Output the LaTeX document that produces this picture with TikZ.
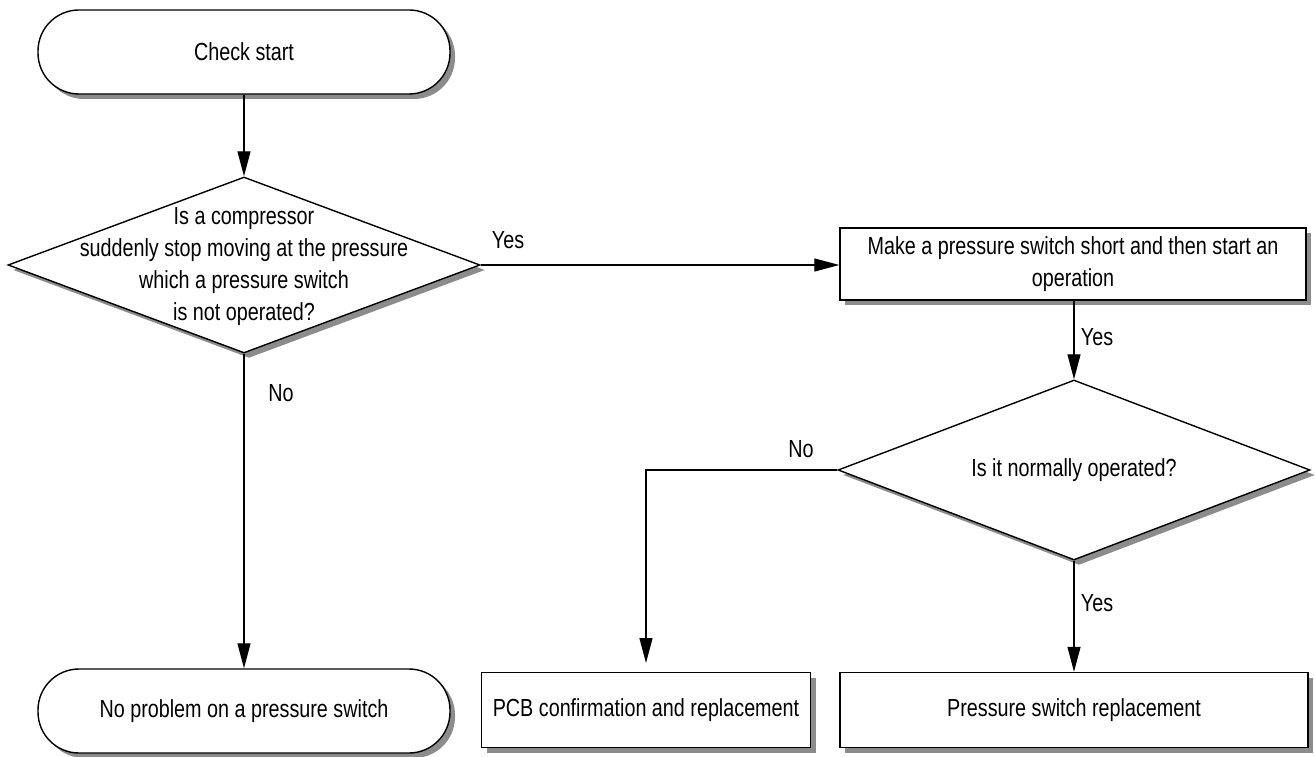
\documentclass[tikz,border=0pt]{standalone}
\usepackage{fontspec}
\setmainfont{Liberation Sans}[FakeStretch=0.8]
\usetikzlibrary{shapes.geometric,shadows,arrows.meta}
\begin{document}
\begin{tikzpicture}[x=1pt,y=-1pt,
  every node/.style={font=\fontsize{24.7}{32}\selectfont, inner sep=0pt},
  shad/.style={drop shadow={shadow xshift=5pt, shadow yshift=-5pt, fill=black!45, opacity=1}},
  term/.style={draw, line width=1.4pt, fill=white, shad, rounded corners=41pt, minimum width=412pt, minimum height=84pt},
  procbox/.style={draw, line width=1.4pt, fill=white, shad, minimum height=75pt},
  dia/.style={draw, line width=1.4pt, fill=white, shad, diamond},
  arr/.style={line width=1.3pt, -{Triangle[length=25pt,width=13pt]}},
  lbl/.style={}
]
\useasboundingbox (0,0) rectangle (1315,757);

\node[term] (start) at (244,52) {Check start};
\node[dia, minimum width=472pt, minimum height=176pt] (d1) at (244,265) {};
\node[align=center] (d1t) at (244,267) {Is a compressor\\suddenly stop moving at the pressure\\which a pressure switch\\is not operated?};

\node[procbox, minimum width=466pt, minimum height=72pt, align=center] (box1) at (1073,264)
  {Make a pressure switch short and then start an\\operation};
\node[dia, minimum width=472pt, minimum height=180pt] (d2) at (1074,470) {};
\node (d2t) at (1074,470) {Is it normally operated?};

\node[term] (end1) at (244,711) {No problem on a pressure switch};
\node[procbox, minimum width=329pt] (pcb) at (646,710) {PCB confirmation and replacement};
\node[procbox, minimum width=468pt] (psr) at (1074,710) {Pressure switch replacement};

\coordinate (pcbin) at (646,663);

\draw[arr] (start.south) -- (d1.north);
\draw[arr] (d1.east) -- (d1.east -| box1.west);
\draw[arr] (d1.south) -- (end1.north);
\draw[arr] (box1.south -| d2.north) -- (d2.north);
\draw[arr] (d2.west) -| (pcbin);
\draw[arr] (d2.south) -- (psr.north -| d2.south);

\node[lbl] (y1) at (508,240) {Yes};
\node[lbl] (n1) at (281,393) {No};
\node[lbl] (y2) at (1097,337) {Yes};
\node[lbl] (n2) at (801,449) {No};
\node[lbl] (y3) at (1097,603) {Yes};
\end{tikzpicture}
\end{document}
